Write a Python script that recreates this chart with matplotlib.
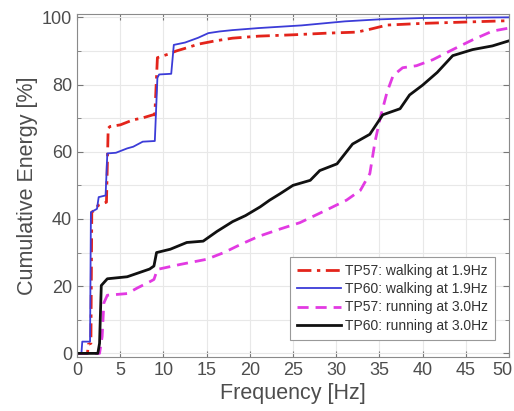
import matplotlib
matplotlib.use("Agg")
import matplotlib.pyplot as plt
from matplotlib.ticker import MultipleLocator, FuncFormatter

# Datos: frecuencia [Hz] y energía acumulada [%]
f_tp57_walk = [0, 1.2, 1.3, 1.6, 1.7, 2.2, 2.4, 3.4, 3.6, 3.8, 5.0, 6.5, 7.5, 8.8, 9.0, 9.3,
               10.5, 11.5, 12.8, 14.0, 16.0, 18.0, 21.0, 25.0, 29.0, 32.4, 34.0, 35.9, 40.0, 45.0, 50.0]
e_tp57_walk = [0, 0, 2.7, 3, 42, 43, 44, 45, 67, 67.5, 68, 69.5, 70, 71, 71, 88,
               89, 90, 91, 92, 93, 93.8, 94.4, 94.8, 95.3, 95.6, 96.5, 97.7, 98.2, 98.6, 99]

f_tp60_walk = [0, 0.5, 0.6, 1.5, 1.6, 2.3, 2.5, 3.3, 3.5, 4.5, 5.8, 6.5, 7.6, 9.0, 9.3, 9.5,
               10.9, 11.2, 12.5, 14.0, 15.2, 16.5, 18.0, 21.0, 26.0, 31.0, 35.0, 40.0, 50.0]
e_tp60_walk = [0, 0, 3.5, 3.5, 42, 43, 46.5, 47, 59.5, 59.7, 61, 61.5, 63, 63.2, 82, 83,
               83.2, 91.8, 92.5, 93.9, 95.3, 95.8, 96.2, 96.8, 97.6, 98.8, 99.4, 99.8, 100]

f_tp57_run = [0, 2.6, 2.9, 3.1, 3.5, 5.8, 7.0, 8.4, 8.9, 9.3, 12.0, 15.0, 17.0, 19.0, 21.0,
              23.5, 25.8, 28.9, 31.2, 32.8, 33.9, 34.5, 35.1, 35.9, 36.6, 37.7, 39.3, 41.2,
              43.5, 45.8, 48.1, 50.0]
e_tp57_run = [0, 0, 5, 15, 17.3, 17.8, 19.5, 21.3, 22, 25, 26.5, 28, 30, 32.5, 34.8,
              37, 38.9, 42.7, 45.6, 48.5, 53.5, 63, 70, 77.8, 82.7, 85, 85.6, 87.4,
              90.4, 93.3, 95.9, 96.8]

f_tp60_run = [0, 2.4, 2.6, 2.8, 3.5, 5.8, 8.4, 8.9, 9.2, 10.8, 12.7, 14.6, 16.2, 18.0, 19.5,
              21.2, 22.3, 23.5, 25.0, 27.0, 28.1, 30.1, 31.9, 33.9, 35.4, 37.4, 38.5, 40.0,
              41.7, 43.5, 45.8, 48.1, 50.0]
e_tp60_run = [0, 0, 3, 20.2, 22.2, 22.8, 25.1, 26, 30, 31, 33, 33.4, 36.3, 39.2, 41,
              43.6, 45.6, 47.5, 50, 51.5, 54.4, 56.4, 62.3, 65.2, 71, 72.8, 76.9, 79.8,
              83.6, 88.6, 90.4, 91.5, 93]

f_max = 50

plt.rcParams['font.family'] = ['Liberation Sans', 'DejaVu Sans']
gris = "#4d4d4d"

fig = plt.figure(figsize=(5.14, 4.11), dpi=100)
ax = fig.add_axes([0.150, 0.132, 0.840, 0.834])

ax.plot(f_tp57_walk, e_tp57_walk, color="#e3241b", linestyle=(0, (5, 2, 1.2, 2)), linewidth=2,
        label="TP57: walking at 1.9Hz")
ax.plot(f_tp60_walk, e_tp60_walk, color="#3c3cd8", linewidth=1.3,
        label="TP60: walking at 1.9Hz")
ax.plot(f_tp57_run, e_tp57_run, color="#e23ae2", linestyle=(0, (4, 2.5)), linewidth=2,
        label="TP57: running at 3.0Hz")
ax.plot(f_tp60_run, e_tp60_run, color="#111111", linewidth=2,
        label="TP60: running at 3.0Hz")

ax.set_xlim(0, f_max)
ax.set_ylim(-1, 101)
ax.xaxis.set_major_locator(MultipleLocator(5))
ax.yaxis.set_major_locator(MultipleLocator(20))
ax.yaxis.set_minor_locator(MultipleLocator(10))
# la etiqueta "50" se pone aparte, un poco corrida para que no se corte
ax.xaxis.set_major_formatter(FuncFormatter(lambda v, p: "" if v >= f_max else f"{v:g}"))
ax.tick_params(which="both", direction="in", top=True, right=True, colors="#777777",
               labelcolor=gris, labelsize=13)
ax.tick_params(which="major", length=4)
ax.tick_params(which="minor", length=3)
ax.grid(which="both", color="#e8e8e8", linewidth=0.8)
ax.set_axisbelow(True)
for s in ax.spines.values():
    s.set_color("#8a8a8a")
    s.set_linewidth(0.8)

ax.annotate(f"{f_max:g}", xy=(f_max, 0), xycoords=("data", "axes fraction"),
            xytext=(-5, -3.5), textcoords="offset points", ha="center", va="top",
            fontsize=13, color=gris)

ax.set_xlabel("Frequency [Hz]", fontsize=15.5, color=gris, labelpad=3)
ax.set_ylabel("Cumulative Energy [%]", fontsize=15.5, color=gris, labelpad=3)

leg = ax.legend(loc="lower right", fontsize=10, fancybox=False, framealpha=1,
                edgecolor="#999999", handlelength=3.2, borderpad=0.5, labelspacing=0.3,
                handletextpad=0.3, bbox_to_anchor=(0.985, 0.03))
leg.get_frame().set_linewidth(0.8)
for t in leg.get_texts():
    t.set_color("#333333")

fig.savefig("out.png", dpi=100)
